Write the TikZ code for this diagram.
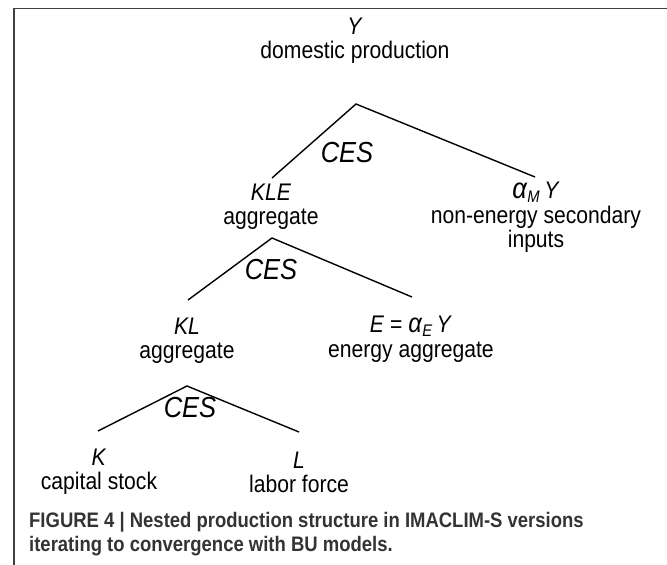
\documentclass[tikz,border=0pt]{standalone}
\usepackage{fontspec}
\setmainfont[FakeStretch=0.88]{Liberation Sans}
\begin{document}
\begin{tikzpicture}[x=1pt,y=-1pt,
  lbl/.style={align=center,inner sep=0pt,font=\fontsize{24}{24}\selectfont},
  ces/.style={inner sep=0pt,font=\fontsize{29}{29}\selectfont\itshape},
  branch/.style={line width=1.4pt,black},
  frame/.style={line width=1.2pt,black!75},
  captxt/.style={anchor=base west,inner sep=0pt,text=black!80,font=\fontsize{21}{21}\selectfont\bfseries}]
\useasboundingbox (0,0) rectangle (667,565);
\draw[frame] (14,565) -- (14,8.5) -- (667,8.5);
% nodes
\node[lbl] (Y) at (355,41) {\textit{Y}\\domestic production};
\node[lbl] (KLE) at (271,207) {\textit{KLE}\\aggregate};
\node[lbl,anchor=north] (M) at (536,182) {{\fontsize{29}{24}\selectfont\textit{α}}\textsubscript{\itshape M}\,\textit{Y}\\[1pt]non-energy secondary\\inputs};
\node[lbl] (KL) at (187,341) {\textit{KL}\\aggregate};
\node[lbl] (E) at (411,339) {\textit{E} = {\fontsize{27}{24}\selectfont\textit{α}}\textsubscript{\itshape E}\,\textit{Y}\\[1pt]energy aggregate};
\node[lbl] (K) at (99,472) {\textit{K}\\capital stock};
\node[lbl] (L) at (299,472) {\textit{L}\\labor force};
% CES labels
\node[ces] (c1) at (347,153) {CES};
\node[ces] (c2) at (271,270) {CES};
\node[ces] (c3) at (190,408) {CES};
% apex coordinates
\coordinate (a1) at (356,104);
\coordinate (a2) at (272,238);
\coordinate (a3) at (187,386);
\coordinate (e1l) at (272,178);
\coordinate (e1r) at (535,177);
\coordinate (e2l) at (188,300);
\coordinate (e2r) at (412,297);
\coordinate (e3l) at (98,431);
\coordinate (e3r) at (299,432);
\draw[branch] (e1l) -- (a1) -- (e1r);
\draw[branch] (e2l) -- (a2) -- (e2r);
\draw[branch] (e3l) -- (a3) -- (e3r);
% caption
\node[captxt] (cap1) at (29,527) {FIGURE 4 | Nested production structure in IMACLIM-S versions};
\node[captxt] (cap2) at (29,551) {iterating to convergence with BU models.};
\end{tikzpicture}
\end{document}
